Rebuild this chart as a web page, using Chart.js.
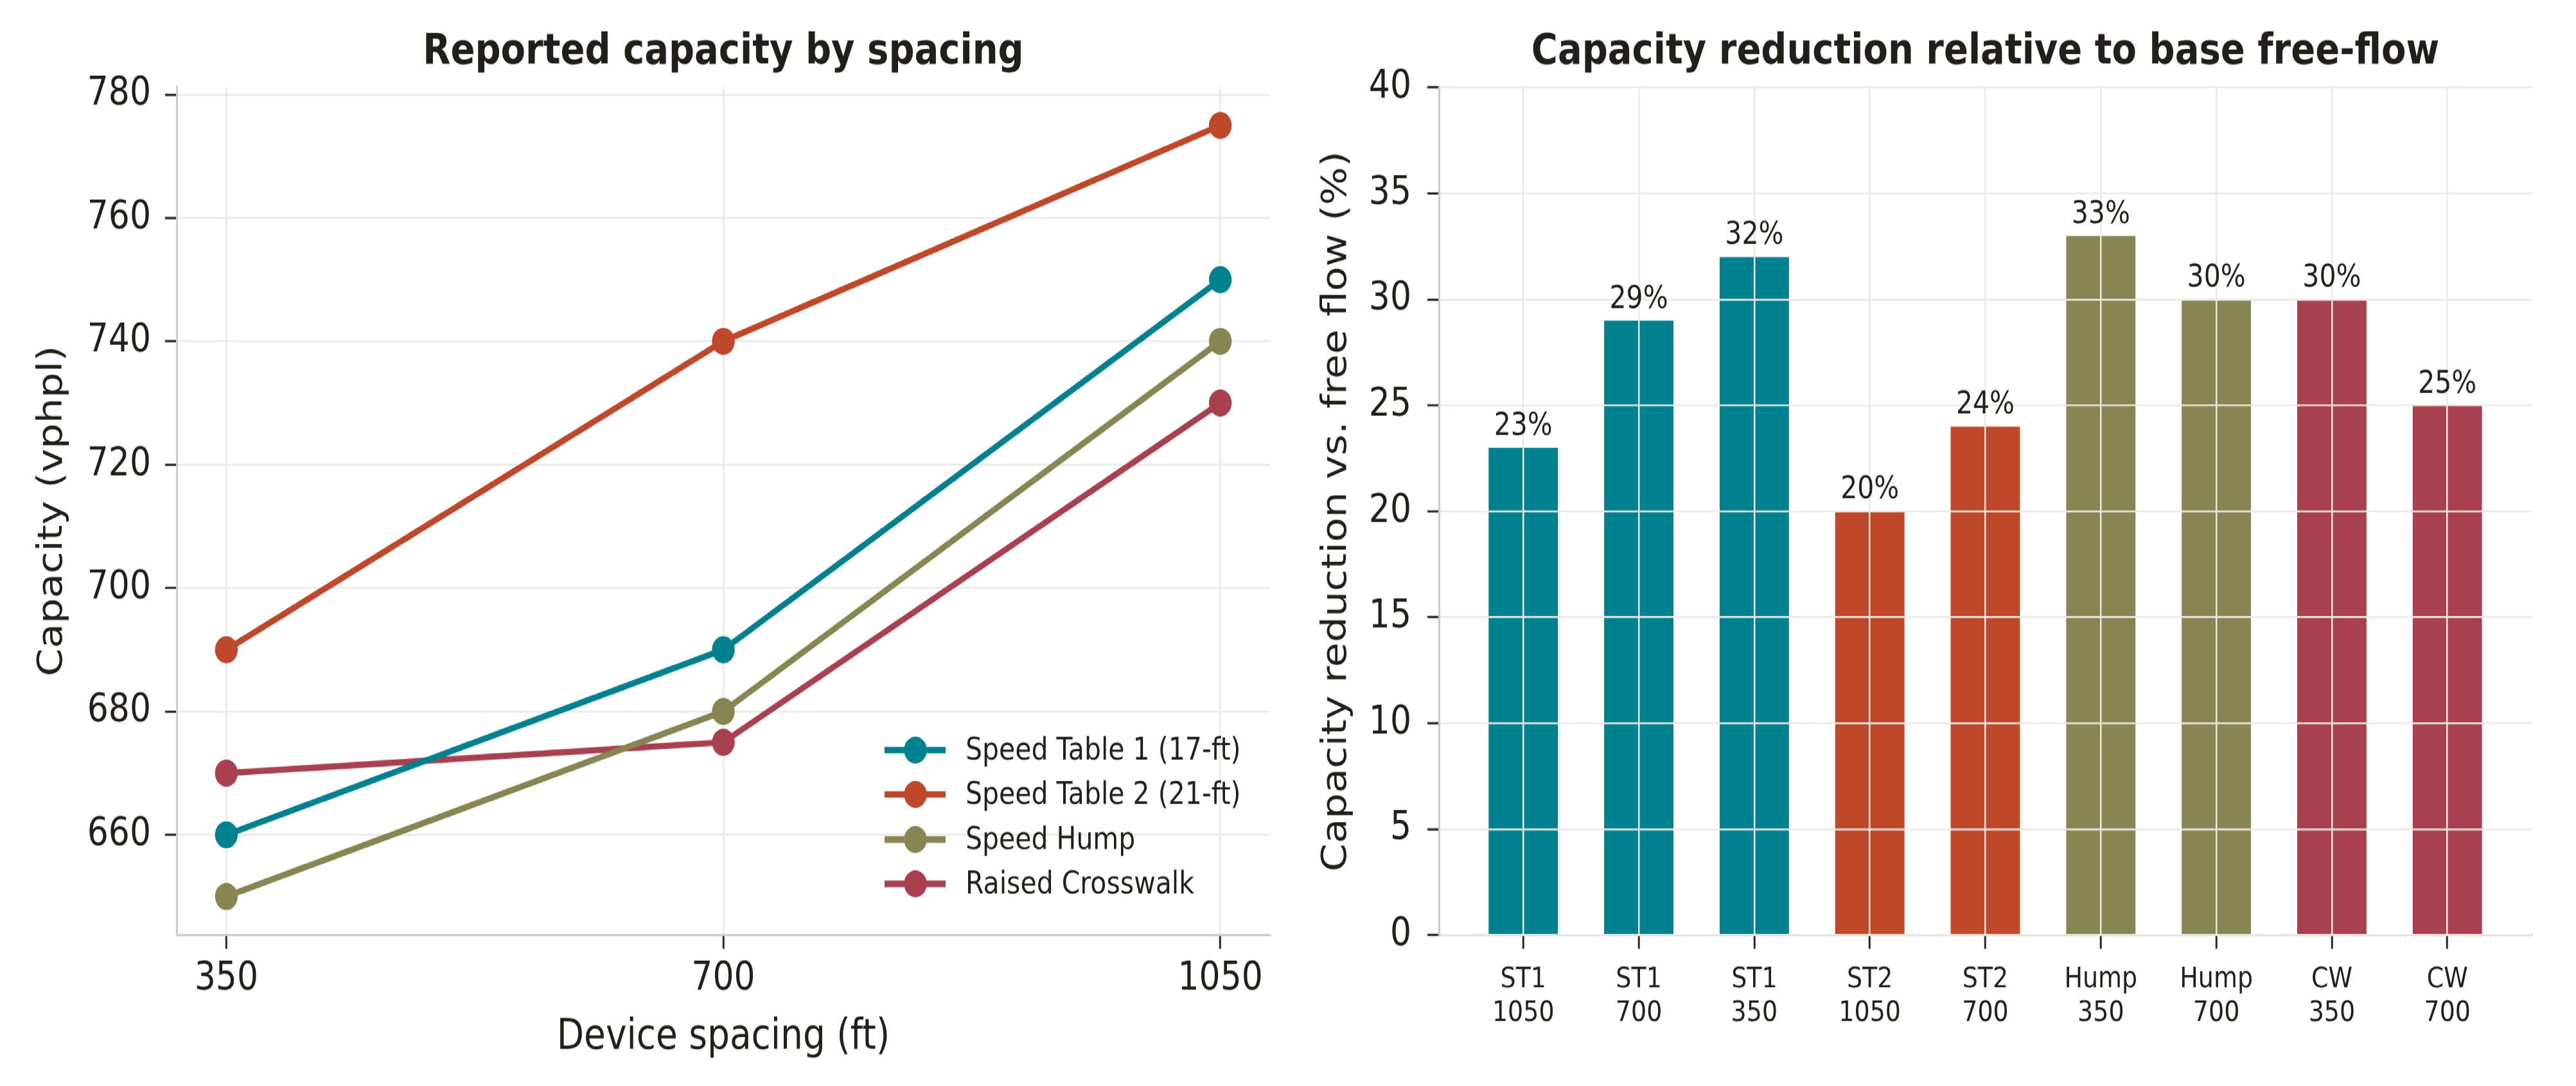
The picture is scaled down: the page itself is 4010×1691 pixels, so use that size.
<!DOCTYPE html>
<html><head><meta charset="utf-8">
<script src="https://cdn.jsdelivr.net/npm/chart.js@4.4.1/dist/chart.umd.min.js"></script>
<style>
html,body{margin:0;padding:0;background:#fff;overflow:hidden}
#stage{position:absolute;left:0;top:0;width:4010px;height:1421px;background:#fff;transform:scaleY(1.19);transform-origin:0 0}
canvas{position:absolute;top:0}
#c1{left:0}
#c2{left:2000px}
</style></head><body>
<div id="stage"><canvas id="c1" width="2000" height="1421"></canvas><canvas id="c2" width="2010" height="1421"></canvas></div>
<script>
// ---------- data ----------
const spacings = [350, 700, 1050];
const seriesNames = ['Speed Table 1 (17-ft)', 'Speed Table 2 (21-ft)', 'Speed Hump', 'Raised Crosswalk'];
const speedTable1 = [660, 690, 750];
const speedTable2 = [690, 740, 775];
const speedHump = [650, 680, 740];
const raisedCrosswalk = [670, 675, 730];
const capacityTicks = [660, 680, 700, 720, 740, 760, 780];

const barGroups = ['ST1', 'ST1', 'ST1', 'ST2', 'ST2', 'Hump', 'Hump', 'CW', 'CW'];
const barSpacings = ['1050', '700', '350', '1050', '700', '350', '700', '350', '700'];
const reductionPct = [23, 29, 32, 20, 24, 33, 30, 30, 25];
const reductionTicks = [0, 5, 10, 15, 20, 25, 30, 35, 40];

// ---------- style ----------
const FONT = 'DejaVu Sans';
const TXT = '#221e18';
const GRID = '#ebe9e4';
const SPINE = '#cfcbc4';
const TICK = '#2b2620';
const seriesColors = ['#00818f', '#c0482a', '#878552', '#a8404f'];
const groupColor = {ST1: seriesColors[0], ST2: seriesColors[1], Hump: seriesColors[2], CW: seriesColors[3]};

const insideLegend = {
  id: 'insideLegend',
  afterDatasetsDraw(chart) {
    const {ctx, chartArea} = chart;
    const r = chartArea.right, b = chartArea.bottom;
    const rows = [b - 242, b - 184, b - 125, b - 67];
    ctx.save();
    ctx.font = '41px "' + FONT + '"';
    ctx.textBaseline = 'middle';
    ctx.textAlign = 'left';
    chart.data.datasets.forEach((ds, i) => {
      const y = rows[i];
      ctx.strokeStyle = ds.borderColor;
      ctx.lineWidth = 8.3;
      ctx.beginPath();
      ctx.moveTo(r - 600, y); ctx.lineTo(r - 505, y);
      ctx.stroke();
      ctx.fillStyle = ds.borderColor;
      ctx.beginPath();
      ctx.arc(r - 552, y, 17.7, 0, Math.PI * 2);
      ctx.fill();
      ctx.fillStyle = TXT;
      ctx.fillText(ds.label, r - 474, y + 2);
    });
    ctx.restore();
  }
};

const barLabels = {
  id: 'barLabels',
  afterDraw(chart) {
    const {ctx} = chart;
    const meta = chart.getDatasetMeta(0);
    ctx.save();
    ctx.font = '41px "' + FONT + '"';
    ctx.fillStyle = TXT;
    ctx.textAlign = 'center';
    ctx.textBaseline = 'alphabetic';
    meta.data.forEach((bar, i) => {
      ctx.fillText(reductionPct[i] + '%', bar.x, bar.y - 17);
    });
    ctx.restore();
  }
};

Chart.defaults.font.family = FONT;

const series = [speedTable1, speedTable2, speedHump, raisedCrosswalk];

new Chart(document.getElementById('c1'), {
  type: 'line',
  data: {
    datasets: series.map((s, i) => ({
      label: seriesNames[i],
      data: spacings.map((x, j) => ({x: x, y: s[j]})),
      borderColor: seriesColors[i],
      backgroundColor: seriesColors[i],
      pointBackgroundColor: seriesColors[i],
      pointBorderColor: seriesColors[i],
      borderWidth: 8.3,
      pointRadius: 17.7,
      pointBorderWidth: 0,
      tension: 0
    }))
  },
  options: {
    responsive: false, animation: false, devicePixelRatio: 1,
    layout: {padding: {left: 0, right: 23, top: 0, bottom: 0}},
    plugins: {
      legend: {display: false}, tooltip: {enabled: false},
      title: {display: true, text: 'Reported capacity by spacing', fullSize: false,
        font: {family: FONT, size: 56, weight: 'bold', lineHeight: 1.2}, color: TXT,
        padding: {top: 35, bottom: 11.5}}
    },
    scales: {
      x: {
        type: 'linear', min: 315, max: 1085,
        afterBuildTicks: s => { s.ticks = spacings.map(v => ({value: v})); },
        afterFit: s => { s.height = 197.5; },
        grid: {color: GRID, lineWidth: 2.5, tickLength: 18, tickColor: TICK, tickWidth: 3},
        border: {color: SPINE, width: 3},
        ticks: {font: {family: FONT, size: 52, lineHeight: 1.2}, color: TXT, padding: 9, callback: v => String(v), maxRotation: 0},
        title: {display: true, text: 'Device spacing (ft)', font: {family: FONT, size: 55, lineHeight: 1.2}, color: TXT, padding: {top: 0, bottom: 30}}
      },
      y: {
        type: 'linear', min: 643.75, max: 781.25,
        afterBuildTicks: s => { s.ticks = capacityTicks.map(v => ({value: v})); },
        afterFit: s => { s.width = 275; },
        grid: {color: GRID, lineWidth: 2.5, tickLength: 18, tickColor: TICK, tickWidth: 3},
        border: {color: SPINE, width: 3},
        ticks: {font: {family: FONT, size: 52}, color: TXT, padding: 22, callback: v => String(v)},
        title: {display: true, text: 'Capacity (vphpl)', font: {family: FONT, size: 52.5, lineHeight: 1.2}, color: TXT, padding: {top: 51, bottom: 0}}
      }
    }
  },
  plugins: [insideLegend]
});

new Chart(document.getElementById('c2'), {
  type: 'bar',
  data: {
    datasets: [{
      label: 'Capacity reduction',
      data: reductionPct.map((y, i) => ({x: i, y: y})),
      backgroundColor: barGroups.map(g => groupColor[g]),
      borderWidth: 0,
      barPercentage: 0.6,
      categoryPercentage: 1
    }]
  },
  options: {
    responsive: false, animation: false, devicePixelRatio: 1,
    layout: {padding: {left: 0, right: 69, top: 0, bottom: 0}},
    plugins: {
      legend: {display: false}, tooltip: {enabled: false},
      title: {display: true, text: 'Capacity reduction relative to base free-flow', fullSize: false,
        font: {family: FONT, size: 56, weight: 'bold', lineHeight: 1.2}, color: TXT,
        padding: {top: 35, bottom: 12.5}}
    },
    scales: {
      x: {
        type: 'linear', min: -0.73, max: 8.73, offset: false,
        afterBuildTicks: s => { s.ticks = barGroups.map((g, i) => ({value: i})); },
        afterFit: s => { s.height = 197.5; },
        grid: {color: GRID, lineWidth: 2.5, tickLength: 18, tickColor: TICK, tickWidth: 3, offset: false, z: 1},
        border: {color: SPINE, width: 3, z: 1},
        ticks: {font: {family: FONT, size: 38, lineHeight: 1.17}, color: TXT, padding: 18, maxRotation: 0,
          callback: v => [barGroups[v], barSpacings[v]]}
      },
      y: {
        type: 'linear', min: 0, max: 40,
        afterBuildTicks: s => { s.ticks = reductionTicks.map(v => ({value: v})); },
        afterFit: s => { s.width = 240; },
        grid: {color: GRID, lineWidth: 2.5, tickLength: 18, tickColor: TICK, tickWidth: 3, z: 1},
        border: {color: SPINE, width: 3, z: 1},
        ticks: {font: {family: FONT, size: 52}, color: TXT, padding: 25, callback: v => String(v)},
        title: {display: true, text: 'Capacity reduction vs. free flow (%)', font: {family: FONT, size: 52.7, lineHeight: 1.2}, color: TXT, padding: {top: 50, bottom: 0}}
      }
    }
  },
  plugins: [barLabels]
});
</script>
</body></html>
